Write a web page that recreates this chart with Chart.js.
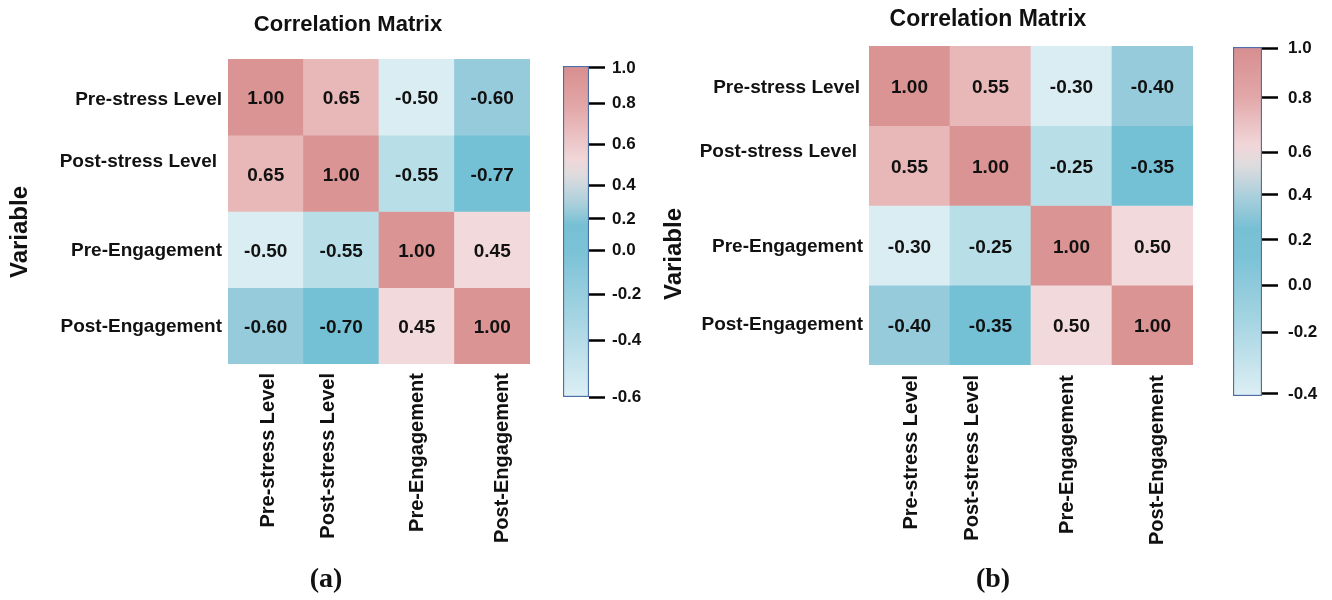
<!DOCTYPE html>
<html>
<head>
<meta charset="utf-8">
<title>Correlation Matrix</title>
<script src="https://cdn.jsdelivr.net/npm/chart.js@4.4.1/dist/chart.umd.min.js"></script>
<style>
  html, body { margin: 0; padding: 0; background: #ffffff; }
  #stage { position: relative; width: 1332px; height: 600px; overflow: hidden; }
  #stage canvas { position: absolute; left: 0; top: 0; }
</style>
</head>
<body>
<div id="stage">
  <canvas id="heatA" width="1332" height="600"></canvas>
  <canvas id="barA" width="1332" height="600"></canvas>
  <canvas id="heatB" width="1332" height="600"></canvas>
  <canvas id="barB" width="1332" height="600"></canvas>
</div>
<script>
// ---- data ----
const variables = ['Pre-stress Level', 'Post-stress Level', 'Pre-Engagement', 'Post-Engagement'];

// panel (a)
const aPreStress      = [ 1.00,  0.65, -0.50, -0.60];
const aPostStress     = [ 0.65,  1.00, -0.55, -0.77];
const aPreEngagement  = [-0.50, -0.55,  1.00,  0.45];
const aPostEngagement = [-0.60, -0.70,  0.45,  1.00];

// panel (b)
const bPreStress      = [ 1.00,  0.55, -0.30, -0.40];
const bPostStress     = [ 0.55,  1.00, -0.25, -0.35];
const bPreEngagement  = [-0.30, -0.25,  1.00,  0.50];
const bPostEngagement = [-0.40, -0.35,  0.50,  1.00];

// colour bar tick labels
const scaleTicksA = ['1.0', '0.8', '0.6', '0.4', '0.2', '0.0', '-0.2', '-0.4', '-0.6'];
const scaleTicksB = ['1.0', '0.8', '0.6', '0.4', '0.2', '0.0', '-0.2', '-0.4'];

// ---- styling ----
const FONT = '"Liberation Sans", Arial, Helvetica, sans-serif';
const SERIF = '"Liberation Serif", "Times New Roman", serif';
const SHADES = ['#DA9494', '#E8B8B8', '#F2DADC', '#DAEDF3', '#B8DEE7', '#96CBDC', '#74C0D5'];
const shadeIndex = [
  [0, 1, 3, 5],
  [1, 0, 4, 6],
  [3, 4, 0, 2],
  [5, 6, 2, 0]
];

function heatmap(id, rows, cfg) {
  const datasets = rows.map((vals, i) => ({
    data: vals.map(() => [i, i + 1]),
    backgroundColor: vals.map((_, j) => SHADES[shadeIndex[i][j]]),
    borderWidth: 0,
    grouped: false,
    barPercentage: 1,
    categoryPercentage: 1
  }));

  const labelPlugin = {
    id: 'heatLabels',
    afterDraw(chart) {
      const ctx = chart.ctx;
      const xs = chart.scales.x, ys = chart.scales.y;
      ctx.save();
      ctx.fillStyle = '#111';

      // cell values
      ctx.font = 'bold 19px ' + FONT;
      ctx.textAlign = 'center';
      ctx.textBaseline = 'middle';
      rows.forEach((vals, i) => {
        chart.getDatasetMeta(i).data.forEach((bar, j) => {
          const p = bar.getProps(['x', 'y', 'base'], true);
          ctx.fillText(vals[j].toFixed(2), p.x, (p.y + p.base) / 2 + 2);
        });
      });

      // row labels
      ctx.font = 'bold 19px ' + FONT;
      ctx.textAlign = 'right';
      variables.forEach((name, i) => {
        ctx.fillText(name, xs.left - cfg.rowGap[i], ys.getPixelForValue(i + 0.5) + cfg.rowDy[i]);
      });

      // column labels, rotated
      ctx.font = 'bold 20px ' + FONT;
      variables.forEach((name, j) => {
        ctx.save();
        ctx.translate(xs.getPixelForValue(j) + cfg.colDx[j], ys.bottom + cfg.colGap);
        ctx.rotate(-Math.PI / 2);
        ctx.textAlign = 'right';
        ctx.textBaseline = 'middle';
        ctx.fillText(name, 0, 0);
        ctx.restore();
      });

      // title
      ctx.textAlign = 'center';
      ctx.textBaseline = 'middle';
      ctx.font = 'bold ' + cfg.titleSize + 'px ' + FONT;
      ctx.fillText('Correlation Matrix', cfg.titleX, cfg.titleY);

      // axis name
      ctx.save();
      ctx.translate(cfg.axisX, cfg.axisY);
      ctx.rotate(-Math.PI / 2);
      ctx.font = 'bold 24px ' + FONT;
      ctx.fillText('Variable', 0, 0);
      ctx.restore();

      // panel tag
      ctx.font = 'bold 28px ' + SERIF;
      ctx.fillText(cfg.tag, cfg.tagX, cfg.tagY);
      ctx.restore();
    }
  };

  return new Chart(document.getElementById(id), {
    type: 'bar',
    data: { labels: variables, datasets },
    options: {
      responsive: false,
      animation: false,
      events: [],
      layout: { padding: cfg.padding },
      plugins: { legend: { display: false }, tooltip: { enabled: false } },
      scales: {
        x: { display: false },
        y: { display: false, min: 0, max: 4, reverse: true }
      }
    },
    plugins: [labelPlugin]
  });
}

function colorbar(id, labels, cfg) {
  return new Chart(document.getElementById(id), {
    type: 'bar',
    data: {
      labels: [''],
      datasets: [{
        data: [[0, 1]],
        backgroundColor: (c) => {
          const a = c.chart.chartArea;
          if (!a) return '#ccc';
          const g = c.chart.ctx.createLinearGradient(0, a.top, 0, a.bottom);
          cfg.gradient.forEach(([p, col]) => g.addColorStop(p, col));
          return g;
        },
        borderColor: '#4D6FA6',
        borderWidth: 1.5,
        borderSkipped: false,
        barPercentage: 1,
        categoryPercentage: 1
      }]
    },
    options: {
      responsive: false,
      animation: false,
      events: [],
      layout: { padding: cfg.padding },
      plugins: { legend: { display: false }, tooltip: { enabled: false } },
      scales: {
        x: { display: false },
        y: {
          position: 'right',
          min: 0,
          max: 1,
          reverse: true,
          afterBuildTicks: (s) => { s.ticks = cfg.stops.map(v => ({ value: v })); },
          afterFit: (s) => { s.width = 60; },
          border: { display: false },
          grid: { display: true, drawOnChartArea: false, drawTicks: true, tickLength: 16, tickWidth: 2.5, tickColor: '#000' },
          ticks: {
            autoSkip: false,
            padding: cfg.labelPad,
            color: '#111',
            font: { family: FONT, size: 17, weight: 'bold' },
            callback: (v, i) => labels[i]
          }
        }
      }
    }
  });
}

heatmap('heatA', [aPreStress, aPostStress, aPreEngagement, aPostEngagement], {
  padding: { left: 228, top: 59, right: 802, bottom: 236 },
  rowGap: [6, 11, 6, 6],
  rowDy: [3, -12, 1, 1],
  colDx: [3, -13, 1, 10],
  colGap: 9,
  titleX: 348, titleY: 25, titleSize: 22,
  axisX: 20, axisY: 232,
  tag: '(a)', tagX: 326, tagY: 580
});

heatmap('heatB', [bPreStress, bPostStress, bPreEngagement, bPostEngagement], {
  padding: { left: 869, top: 46, right: 139, bottom: 235 },
  rowGap: [9, 12, 6, 6],
  rowDy: [2, -14, 1, 0],
  colDx: [2, -18, -4, 5],
  colGap: 10,
  titleX: 988, titleY: 20, titleSize: 23,
  axisX: 674, axisY: 254,
  tag: '(b)', tagX: 993, tagY: 580
});

colorbar('barA', scaleTicksA, {
  padding: { left: 563, top: 66, right: 1332 - 589 - 60, bottom: 600 - 397 },
  stops: [0.006, 0.112, 0.236, 0.36, 0.462, 0.556, 0.689, 0.828, 1.0],
  labelPad: 7,
  gradient: [[0, '#D88E8E'], [0.12, '#E2A6A7'], [0.28, '#F1D6D8'], [0.33, '#DEDCDE'],
             [0.42, '#A8CFDB'], [0.48, '#77C0D4'], [0.56, '#7BC2D6'], [0.78, '#A9D6E3'], [1, '#DDEFF5']]
});

colorbar('barB', scaleTicksB, {
  padding: { left: 1233, top: 47, right: 1332 - 1262 - 60, bottom: 600 - 396 },
  stops: [0.003, 0.146, 0.301, 0.424, 0.553, 0.682, 0.817, 0.994],
  labelPad: 10,
  gradient: [[0, '#D88E8E'], [0.14, '#E2A6A7'], [0.28, '#F1D6D8'], [0.34, '#DEDCDE'],
             [0.43, '#A8CFDB'], [0.52, '#77C0D4'], [0.60, '#7BC2D6'], [0.80, '#A9D6E3'], [1, '#DDEFF5']]
});
</script>
</body>
</html>
